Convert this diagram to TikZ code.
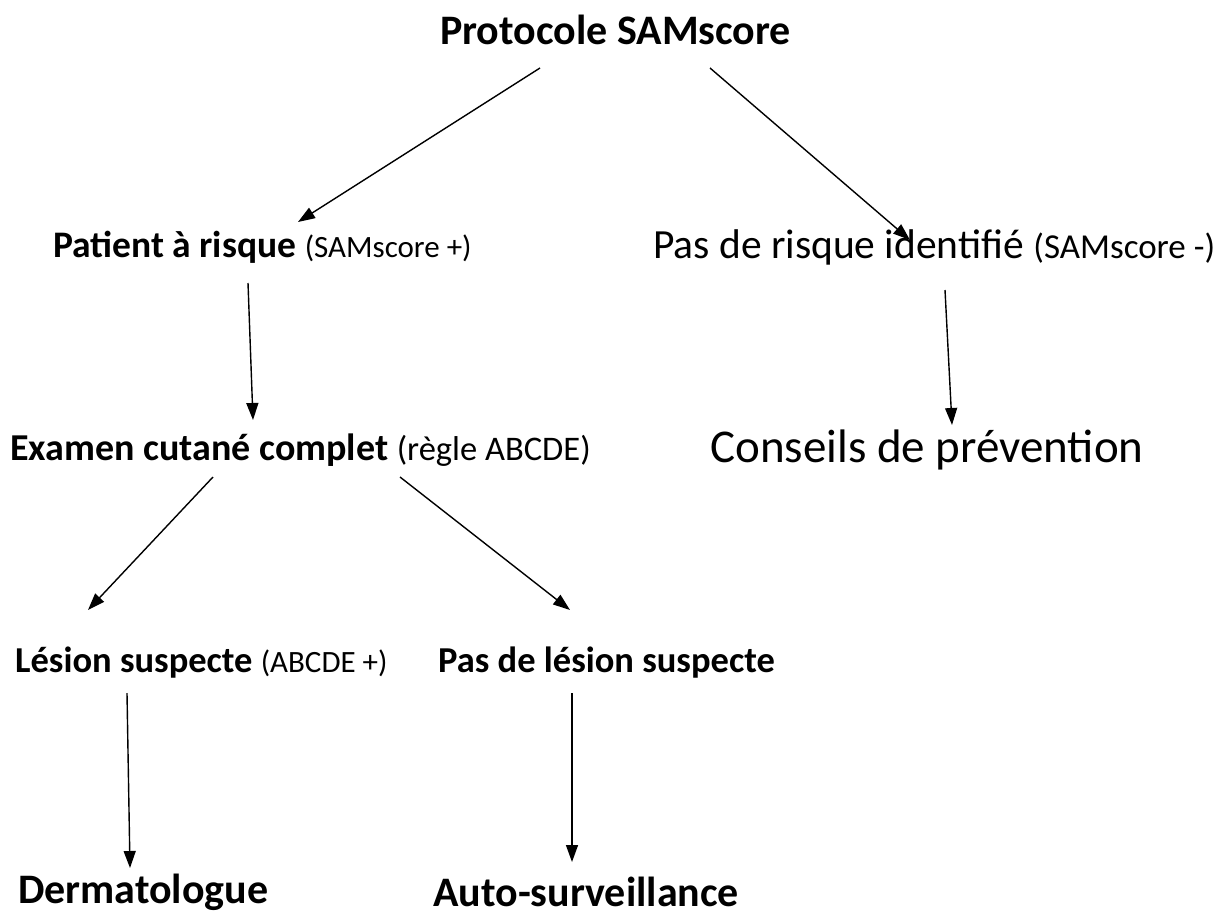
\documentclass[tikz,border=0pt]{standalone}
\usepackage{fontspec}
\setmainfont{Carlito}
\usetikzlibrary{arrows.meta,calc}
\newcommand{\fs}[1]{\fontsize{#1}{#1}\selectfont}
\tikzset{
  lbl/.style={anchor=west, inner sep=0pt, font=\fs{36.5}},
  big/.style={anchor=west, inner sep=0pt, font=\fs{42}\bfseries},
  arr/.style={line width=1.4pt, -{Triangle[length=17pt,width=12pt]}}
}
\begin{document}
\begin{tikzpicture}[x=1pt,y=-1pt]
\useasboundingbox (0,0) rectangle (1230,915);
% labels
\node[big] (title) at (440,30) {Protocole SAMscore};
\node[lbl] (pat) at (53,247) {\fs{37.5}\textbf{Patient à risque} {\fs{31}(SAMscore +)}};
\node[lbl] (nor) at (653,247) {\fs{41.5}Pas de risque identifié {\fs{35}(SAMscore -)}};
\node[lbl] (exa) at (10,450) {\fs{38}\textbf{Examen cutané complet} {\fs{34.5}(règle ABCDE)}};
\node[lbl] (con) at (710,450) {\fs{47}Conseils de prévention};
\node[lbl] (les) at (15,663) {\textbf{Lésion suspecte} {\fs{31}(ABCDE +)}};
\node[lbl] (pas) at (438,663) {\textbf{Pas de lésion suspecte}};
\node[big] (der) at (18,892) {Dermatologue};
\node[big] (aut) at (433,892) {Auto-surveillance};
% connectors
\draw[arr] ($(title.west)+(100,38)$) -- ($(pat.west)+(245,-25)$);
\draw[arr] ($(title.west)+(270,38)$) -- ($(nor.west)+(257,-7)$);
\draw[arr] ($(pat.west)+(195,36)$) -- ($(exa.west)+(243,-30)$);
\draw[arr] ($(nor.west)+(292,43)$) -- ($(con.west)+(242,-25)$);
\draw[arr] ($(exa.west)+(203,27)$) -- ($(les.west)+(73,-53)$);
\draw[arr] ($(exa.west)+(390,27)$) -- ($(pas.west)+(132,-53)$);
\draw[arr] ($(les.west)+(112,30)$) -- ($(der.west)+(112,-24)$);
\draw[arr] ($(pas.west)+(134,30)$) -- ($(aut.west)+(139,-30)$);
\end{tikzpicture}
\end{document}
